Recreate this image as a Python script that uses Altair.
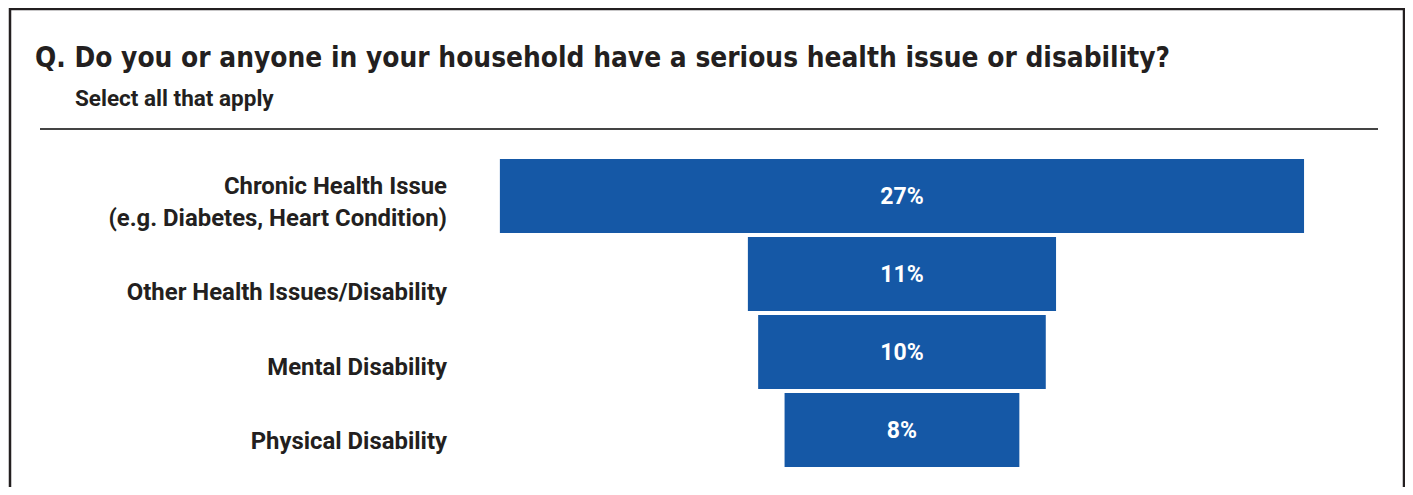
import altair as alt
import pandas as pd

# ---- data ----
categories = [
    "Chronic Health Issue\u00a0\n(e.g. Diabetes, Heart Condition)",
    "Other Health Issues/Disability",
    "Mental Disability",
    "Physical Disability",
]
values = [27.4, 10.5, 9.8, 8.0]
value_labels = ["27%", "11%", "10%", "8%"]

title_text = ["Q. Do you or anyone in your household have a serious health issue or disability?"]
subtitle_text = ["Select all that apply"]

df = pd.DataFrame({"cat": categories, "v": values, "lbl": value_labels})
one = pd.DataFrame({"a": [0]})

W, H = 1397, 479
DARK = "#231f20"
BLUE = "#1558a6"

xs = alt.Scale(domain=[-30.46, 17.14], range=[0, W], nice=False, zero=False)
ys = alt.Scale(domain=categories, range=[149, 461], paddingInner=0.05, paddingOuter=0.025)
ys_lbl = alt.Scale(domain=categories, range=[173.25, 471.25], paddingInner=0, paddingOuter=0)

base = alt.Chart(df).transform_calculate(lo="-datum.v/2", hi="datum.v/2")

bars = base.mark_bar(color=BLUE).encode(
    x=alt.X("lo:Q", scale=xs, axis=None),
    x2="hi:Q",
    y=alt.Y("cat:N", sort=categories, scale=ys, axis=None),
)

bar_text = base.mark_text(
    color="white", font="Roboto", fontWeight="bold", fontSize=23, baseline="middle", align="center", dy=1
).encode(
    x=alt.datum(0, scale=xs),
    y=alt.Y("cat:N", sort=categories, scale=ys, axis=None),
    text="lbl:N",
)

lbl_props = dict(color=DARK, font="Roboto", fontWeight="bold", fontSize=23.9, baseline="middle",
                 align="right", lineBreak="\n", lineHeight=31.5)

cat_text_multi = base.transform_filter(
    alt.FieldOneOfPredicate(field="cat", oneOf=categories[:1])
).mark_text(dy=-31.5, **lbl_props).encode(
    x=alt.value(439),
    y=alt.Y("cat:N", sort=categories, scale=ys_lbl, axis=None),
    text="cat:N",
)

cat_text_single = base.transform_filter(
    alt.FieldOneOfPredicate(field="cat", oneOf=categories[1:])
).mark_text(**lbl_props).encode(
    x=alt.value(439),
    y=alt.Y("cat:N", sort=categories, scale=ys_lbl, axis=None),
    text="cat:N",
)

title = alt.Chart(pd.DataFrame({"t": title_text})).mark_text(
    color=DARK, font="'DejaVu Sans Condensed', 'Liberation Sans Narrow', 'Roboto Condensed', Roboto",
    fontWeight="bold", fontSize=27.8, align="left", baseline="alphabetic"
).encode(x=alt.value(27), y=alt.value(59), text="t:N")

subtitle = alt.Chart(pd.DataFrame({"t": subtitle_text})).mark_text(
    color=DARK, font="Roboto", fontWeight="bold", fontSize=22.5, align="left", baseline="alphabetic"
).encode(x=alt.value(67), y=alt.value(98), text="t:N")

hrule = alt.Chart(one).mark_rule(color="#444444", strokeWidth=2).encode(
    x=alt.value(32), x2=alt.value(1370), y=alt.value(121)
)
border_top = alt.Chart(one).mark_rule(color=DARK, strokeWidth=2.5).encode(
    x=alt.value(2), x2=alt.value(1396), y=alt.value(1)
)
border_left = alt.Chart(one).mark_rule(color=DARK, strokeWidth=2.5).encode(
    x=alt.value(2), y=alt.value(0), y2=alt.value(H)
)
border_right = alt.Chart(one).mark_rule(color=DARK, strokeWidth=2.5).encode(
    x=alt.value(1396), y=alt.value(0), y2=alt.value(H)
)

chart = alt.layer(
    bars, bar_text, cat_text_multi, cat_text_single, title, subtitle,
    hrule, border_top, border_left, border_right
).resolve_scale(y="independent").properties(
    width=W, height=H, padding=0, autosize=alt.AutoSizeParams(type="none"), background="white"
).configure_view(stroke=None)

chart.save("out.html", embed_options={"renderer": "svg", "actions": False})
